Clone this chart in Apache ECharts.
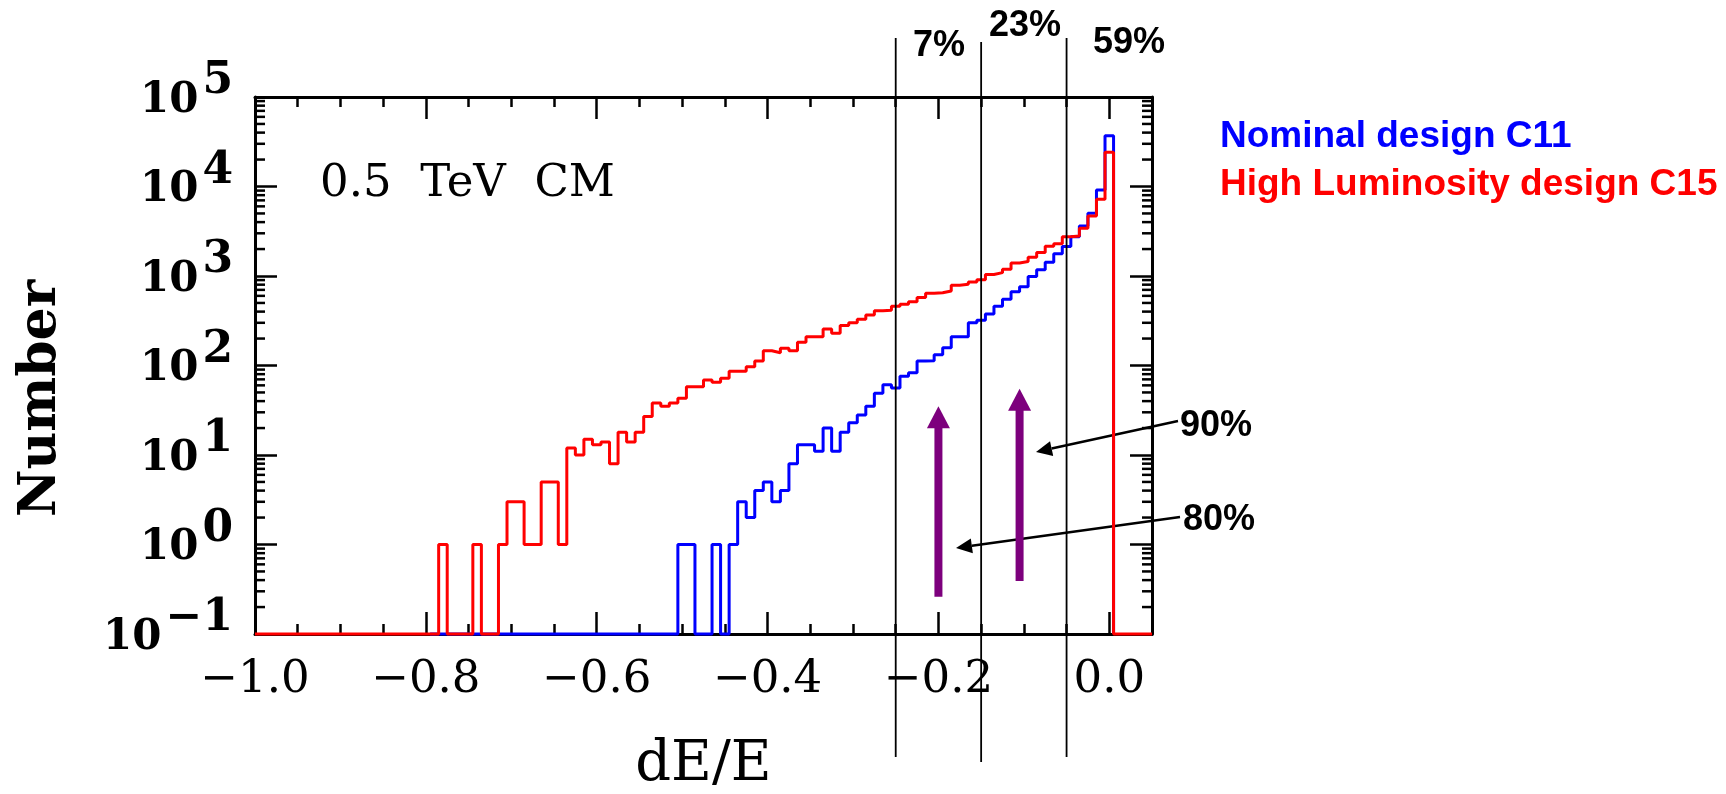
<!DOCTYPE html>
<html>
<head>
<meta charset="utf-8">
<title>dE/E spectrum</title>
<script src="https://cdn.jsdelivr.net/npm/echarts@6/dist/echarts.min.js"></script>
<style>
html, body { margin: 0; padding: 0; background: #fff; }
#chart { width: 1726px; height: 794px; }
</style>
</head>
<body>
<div id="chart"></div>
<script>
// histogram bins are 0.01 wide, first bin centred at -0.79, last one at 0.00
const binWidth = 0.01
const firstCenter = -0.79

// High Luminosity design C15 (red)
const c15Counts = [
	0, 1, 0, 0, 0, 1, 0, 0, 1, 3,
	3, 1, 1, 5, 5, 1, 12, 10, 15, 13,
	14, 8, 18, 14, 18, 27, 38, 35, 38, 43,
	58, 58, 69, 65, 72, 86, 86, 97, 112, 146,
	139, 156, 146, 182, 210, 210, 256, 229, 279, 301,
	328, 367, 410, 415, 460, 485, 516, 575, 640, 650,
	680, 790, 807, 855, 910, 1040, 1090, 1190, 1400, 1450,
	1620, 1825, 2150, 2290, 2750, 2800, 3410, 4690, 7200, 24100
]

// Nominal design C11 (blue)
const c11Counts = [
	0, 0, 0, 0, 0, 0, 0, 0, 0, 0,
	0, 0, 0, 0, 0, 0, 0, 0, 0, 0,
	0, 0, 0, 0, 0, 0, 0, 0, 0, 1,
	1, 0, 0, 1, 0, 1, 3, 2, 4, 5,
	3, 4, 8, 13, 13, 11, 20, 11, 18, 23,
	28, 35, 49, 61, 56, 76, 83, 112, 113, 132,
	158, 210, 210, 301, 320, 375, 458, 549, 668, 757,
	990, 1175, 1420, 1775, 2130, 2750, 3620, 5015, 9140, 37000
]

const seriesNames = ['Nominal design C11', 'High Luminosity design C15']

// cuts and the share of events between them
const cutX = [-0.25, -0.15, -0.05]
const shareLabels = ['7%', '23%', '59%']

// purple arrows: x, from, to (Number)
const arrowX = [-0.2, -0.105]
const arrowFrom = [0.26, 0.39]
const arrowTo = [35, 55]

const xMin = -1.0
const xMax = 0.05
const yMin = 0.1
const yMax = 1e5

// log minor ticks 2..9 in every decade
const logMinor = []
for (let d = -1; d < 5; d++) {
	for (let k = 2; k <= 9; k++) logMinor.push(k * Math.pow(10, d))
}

function histPoints (counts, from, to) {
	const pts = from === null ? [] : [[from, yMin]]
	counts.forEach((n, i) => {
		const edge = +(firstCenter - binWidth / 2 + i * binWidth).toFixed(3)
		pts.push([edge, n > 0 ? n : yMin])
	})
	const lastEdge = +(firstCenter + binWidth / 2 + (counts.length - 1) * binWidth).toFixed(3)
	pts.push([lastEdge, yMin])
	if (to !== null) pts.push([to, yMin])
	return pts
}

const serif = 'DejaVu Serif'
const sans = 'Liberation Sans'
const purple = '#7d007d'
const frameLine = { show: true, onZero: false, lineStyle: { color: '#000', width: 3 } }
const majorTick = { show: true, inside: true, length: 22, lineStyle: { color: '#000', width: 2.5 } }
const minorTickX = { show: true, inside: true, length: 10, lineStyle: { color: '#000', width: 2.5 } }

const xLabel = v => {
	const k = v / 0.2
	if (Math.abs(k - Math.round(k)) > 1e-6) return ''
	const r = Math.abs(v) < 1e-9 ? 0 : v
	return r.toFixed(1).replace('-', '\u2212')
}

const yLabel = v => {
	const e = Math.round(Math.log10(v))
	return '{b|10}{e|' + (e < 0 ? '\u2212' + (-e) : e) + '}'
}

function xAxisDef (position, interval, tick, line, labels) {
	return {
		type: 'value',
		position,
		min: xMin,
		max: xMax,
		interval,
		axisLine: line ? frameLine : { show: false },
		axisTick: tick,
		axisLabel: labels ? {
			margin: 24,
			fontFamily: serif,
			fontSize: 45,
			color: '#000',
			formatter: xLabel
		} : { show: false },
		splitLine: { show: false }
	}
}

// callouts: label, label position, line start, arrow tip (pixels)
const callouts = [
	{ text: '90%', tx: 1180, ty: 426, from: [1178, 421], tip: [1036, 452] },
	{ text: '80%', tx: 1183, ty: 520, from: [1180, 517], tip: [956, 548] }
]

const graphics = []
callouts.forEach(c => {
	const dx = c.tip[0] - c.from[0]
	const dy = c.tip[1] - c.from[1]
	const len = Math.sqrt(dx * dx + dy * dy)
	const ux = dx / len
	const uy = dy / len
	const bx = c.tip[0] - ux * 16
	const by = c.tip[1] - uy * 16
	graphics.push({
		type: 'line',
		shape: { x1: c.from[0], y1: c.from[1], x2: bx, y2: by },
		style: { stroke: '#000', lineWidth: 2.5 }
	})
	graphics.push({
		type: 'polygon',
		shape: { points: [c.tip, [bx - uy * 7.5, by + ux * 7.5], [bx + uy * 7.5, by - ux * 7.5]] },
		style: { fill: '#000' }
	})
	graphics.push({
		type: 'text',
		x: c.tx,
		y: c.ty,
		style: { text: c.text, fontFamily: sans, fontWeight: 'bold', fontSize: 36, fill: '#000', align: 'left', verticalAlign: 'middle' }
	})
})

const shareLabelPos = [[939, 46], [1025, 26], [1129, 43]]
shareLabels.forEach((t, i) => {
	graphics.push({
		type: 'text',
		x: shareLabelPos[i][0],
		y: shareLabelPos[i][1],
		style: { text: t, fontFamily: sans, fontWeight: 'bold', fontSize: 36, fill: '#000', align: 'center', verticalAlign: 'middle' }
	})
})

graphics.push({
	type: 'text',
	x: 320,
	y: 184,
	style: { text: '0.5  TeV  CM', fontFamily: serif, fontSize: 45, fill: '#000', align: 'left', verticalAlign: 'middle' }
})

const cutTop = [38, 42, 38]
const cutBottom = [757, 762, 757]

const node = document.getElementById('chart')
const myChart = echarts.init(node)

const option = {
	animation: false,
	backgroundColor: '#fff',
	grid: {
		left: 255,
		top: 97,
		right: 574,
		bottom: 160,
		containLabel: false,
		outerBoundsMode: 'none'
	},
	legend: {
		orient: 'vertical',
		left: 1215,
		top: 116,
		itemWidth: 0,
		itemHeight: 0,
		itemGap: 6,
		padding: 0,
		icon: 'rect',
		selectedMode: false,
		textStyle: { fontFamily: sans, fontWeight: 'bold', fontSize: 37, lineHeight: 42 },
		data: [
			{ name: seriesNames[0], textStyle: { color: '#0000ff' } },
			{ name: seriesNames[1], textStyle: { color: '#ff0000' } }
		]
	},
	xAxis: [
		Object.assign(xAxisDef('bottom', 0.2, majorTick, true, true), {
			name: 'dE/E',
			nameLocation: 'middle',
			nameGap: 103,
			nameTextStyle: { fontFamily: serif, fontSize: 56, color: '#000' }
		}),
		xAxisDef('bottom', 0.05, minorTickX, false, false),
		xAxisDef('top', 0.2, majorTick, true, false),
		xAxisDef('top', 0.05, minorTickX, false, false)
	],
	yAxis: [
		{
			type: 'log',
			logBase: 10,
			min: yMin,
			max: yMax,
			splitNumber: 6,
			position: 'left',
			axisLine: frameLine,
			axisTick: majorTick,
			minorTick: { show: false },
			splitLine: { show: false },
			axisLabel: {
				margin: 22,
				color: '#000',
				formatter: yLabel,
				rich: {
					b: { fontFamily: serif, fontWeight: 'bold', fontSize: 42, color: '#000', padding: [8, 0, 0, 0], verticalAlign: 'middle' },
					e: { fontFamily: serif, fontWeight: 'bold', fontSize: 44, color: '#000', padding: [0, 0, 30, 4], verticalAlign: 'middle' }
				}
			},
			name: 'Number',
			nameLocation: 'middle',
			nameGap: 188,
			nameTextStyle: { fontFamily: serif, fontWeight: 'bold', fontSize: 52, color: '#000', padding: [0, 66, 0, 0] }
		},
		{
			type: 'log',
			logBase: 10,
			min: yMin,
			max: yMax,
			splitNumber: 6,
			position: 'right',
			axisLine: frameLine,
			axisTick: majorTick,
			minorTick: { show: false },
			splitLine: { show: false },
			axisLabel: { show: false }
		}
	],
	graphic: graphics,
	series: [
		{
			name: 'logMinorTicks',
			type: 'custom',
			silent: true,
			xAxisIndex: 0,
			yAxisIndex: 0,
			data: logMinor.map(v => [xMin, v]),
			encode: { x: 0, y: 1 },
			renderItem: (params, api) => {
				const y = api.coord([xMin, api.value(1)])[1]
				const cs = params.coordSys
				const st = { stroke: '#000', lineWidth: 2.5 }
				return {
					type: 'group',
					children: [
						{ type: 'line', shape: { x1: cs.x, y1: y, x2: cs.x + 10, y2: y }, style: st },
						{ type: 'line', shape: { x1: cs.x + cs.width, y1: y, x2: cs.x + cs.width - 10, y2: y }, style: st }
					]
				}
			}
		},
		{
			name: seriesNames[0],
			type: 'line',
			step: 'end',
			showSymbol: false,
			clip: false,
			color: '#0000ff',
			lineStyle: { color: '#0000ff', width: 3 },
			data: histPoints(c11Counts, null, null),
			z: 3
		},
		{
			name: seriesNames[1],
			type: 'line',
			step: 'end',
			showSymbol: false,
			clip: false,
			color: '#ff0000',
			lineStyle: { color: '#ff0000', width: 3 },
			data: histPoints(c15Counts, xMin, xMax),
			z: 4
		},
		{
			name: 'cuts',
			type: 'custom',
			silent: true,
			z: 6,
			data: cutX.map(x => [x, 1]),
			encode: { x: 0, y: 1 },
			renderItem: (params, api) => {
				const x = api.coord([api.value(0), 1])[0]
				const i = params.dataIndex
				return {
					type: 'line',
					shape: { x1: x, y1: cutTop[i], x2: x, y2: cutBottom[i] },
					style: { stroke: '#000', lineWidth: 1.8 }
				}
			}
		},
		{
			name: 'arrows',
			type: 'custom',
			silent: true,
			z: 7,
			data: arrowX.map((x, i) => [x, arrowFrom[i], arrowTo[i]]),
			encode: { x: 0, y: [1, 2] },
			renderItem: (params, api) => {
				const tail = api.coord([api.value(0), api.value(1)])
				const tip = api.coord([api.value(0), api.value(2)])
				const headLen = 22
				const headHalf = 11.5
				const shaftHalf = 4
				return {
					type: 'group',
					children: [
						{
							type: 'rect',
							shape: { x: tail[0] - shaftHalf, y: tip[1] + headLen - 1, width: shaftHalf * 2, height: tail[1] - tip[1] - headLen + 1 },
							style: { fill: purple }
						},
						{
							type: 'polygon',
							shape: { points: [[tip[0], tip[1]], [tip[0] - headHalf, tip[1] + headLen], [tip[0] + headHalf, tip[1] + headLen]] },
							style: { fill: purple }
						}
					]
				}
			}
		}
	]
}

myChart.setOption(option)

window.addEventListener('resize', () => {
	myChart.resize()
})
</script>
</body>
</html>
